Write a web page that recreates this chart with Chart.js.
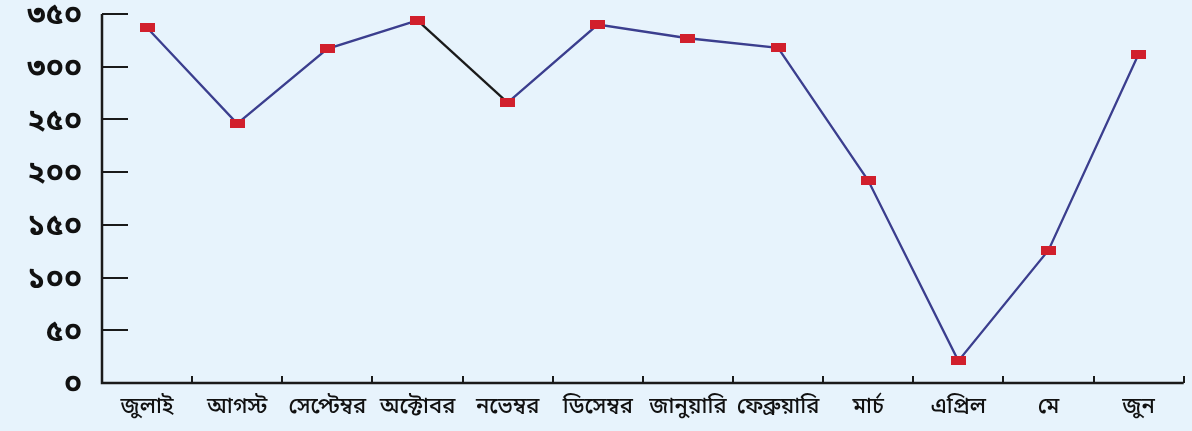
<!DOCTYPE html>
<html>
<head>
<meta charset="utf-8">
<script src="https://cdn.jsdelivr.net/npm/chart.js@4.4.0/dist/chart.umd.min.js"></script>
<style>
  html, body { margin: 0; padding: 0; background: #e7f3fc; }
  #wrap { width: 1192px; height: 431px; position: relative; }
</style>
</head>
<body>
<div id="wrap"><canvas id="c" width="1192" height="431"></canvas></div>
<script>
const months = ['জুলাই', 'আগস্ট', 'সেপ্টেম্বর', 'অক্টোবর', 'নভেম্বর', 'ডিসেম্বর', 'জানুয়ারি', 'ফেব্রুয়ারি', 'মার্চ', 'এপ্রিল', 'মে', 'জুন'];
const values = [337, 246, 317, 344, 266, 340, 327, 318, 192, 21, 126, 312];
const yTickLabels = ['০', '৫০', '১০০', '১৫০', '২০০', '২৫০', '৩০০', '৩৫০'];

const LINE = '#3b3e8e';
const MARK = '#d11f2c';
const FONT = '"Noto Sans Bengali", "Noto Sans", "DejaVu Sans", sans-serif';

const marker = document.createElement('canvas');
marker.width = 15; marker.height = 9;
const mctx = marker.getContext('2d');
mctx.fillStyle = MARK;
mctx.fillRect(0, 0, 15, 9);

const tickPlugin = {
  id: 'innerTicks',
  afterDraw(chart) {
    const ctx = chart.ctx;
    const x = chart.scales.x, y = chart.scales.y;
    const area = chart.chartArea;
    ctx.save();
    ctx.strokeStyle = '#1a1a1a';
    ctx.lineWidth = 2;
    y.ticks.forEach(t => {
      const py = Math.round(y.getPixelForValue(t.value));
      ctx.beginPath();
      ctx.moveTo(area.left, py);
      ctx.lineTo(area.left + 26, py);
      ctx.stroke();
    });
    for (let i = 1; i <= months.length; i++) {
      const px = Math.round(x.getPixelForValue(i - 0.5));
      ctx.beginPath();
      ctx.moveTo(px, area.bottom);
      ctx.lineTo(px, area.bottom - 7);
      ctx.stroke();
    }
    ctx.lineWidth = 2.5;
    ctx.beginPath();
    ctx.moveTo(area.left, y.getPixelForValue(350));
    ctx.lineTo(area.left, area.bottom);
    ctx.lineTo(area.right, area.bottom);
    ctx.stroke();
    ctx.restore();
  }
};

new Chart(document.getElementById('c'), {
  type: 'line',
  data: {
    labels: months,
    datasets: [{
      data: values,
      borderColor: LINE,
      borderWidth: 2.3,
      tension: 0,
      pointStyle: marker,
      pointRadius: 6,
      pointHoverRadius: 6,
      segment: {
        borderColor: ctx => ctx.p0DataIndex === 3 ? '#1a1a1a' : LINE
      }
    }]
  },
  options: {
    responsive: false,
    animation: false,
    events: [],
    layout: { padding: { top: 14, right: 3, left: 0, bottom: 0 } },
    plugins: { legend: { display: false }, tooltip: { enabled: false } },
    scales: {
      x: {
        type: 'category',
        offset: true,
        grid: { display: false, drawTicks: false },
        border: { display: false },
        ticks: {
          color: '#111',
          font: { family: FONT, size: 22, weight: '500' },
          padding: 13,
          maxRotation: 0,
          autoSkip: false
        },
        afterFit(s) { s.height = 48; s.paddingLeft = 0; s.paddingRight = 0; }
      },
      y: {
        min: 0,
        max: 350,
        grid: { display: false, drawTicks: false },
        border: { display: false },
        ticks: {
          stepSize: 50,
          color: '#111',
          font: { family: FONT, size: 30, weight: 'bold', lineHeight: '9px' },
          padding: 20,
          callback: (v) => ['', yTickLabels[Math.round(v / 50)]]
        },
        afterFit(s) { s.width = 102; s.paddingTop = 0; s.paddingBottom = 0; }
      }
    }
  },
  plugins: [tickPlugin]
});
</script>
</body>
</html>
